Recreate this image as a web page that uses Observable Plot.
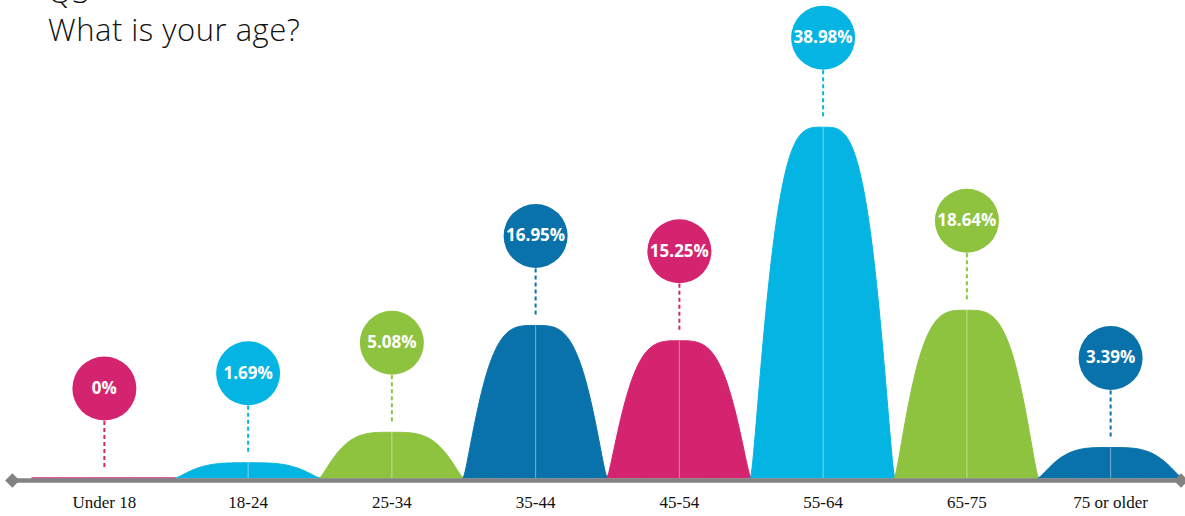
<!DOCTYPE html>
<html>
<head>
<meta charset="utf-8">
<script src="https://cdn.jsdelivr.net/npm/d3@7"></script>
<script src="https://cdn.jsdelivr.net/npm/@observablehq/plot@0.6"></script>
<style>
  html, body { margin: 0; padding: 0; background: #fff; }
  #wrap { position: relative; width: 1185px; height: 516px; overflow: hidden; }
  #title {
    position: absolute; left: 48px; top: -28px;
    font-family: "Open Sans", sans-serif; font-weight: 300;
    font-size: 31px; line-height: 38px; letter-spacing: 0.5px; color: #111;
    pointer-events: none;
  }
  #chart { position: absolute; left: 0; top: 0; }
</style>
</head>
<body>
<div id="wrap">
  <div id="chart"></div>
  <div id="title">Q3<br>What is your age?</div>
</div>
<script>
// Survey answers: share of respondents per age group (%)
const categories = ["Under 18", "18-24", "25-34", "35-44", "45-54", "55-64", "65-75", "75 or older"];
const shares = [0, 1.69, 5.08, 16.95, 15.25, 38.98, 18.64, 3.39];
const shareLabels = ["0%", "1.69%", "5.08%", "16.95%", "15.25%", "38.98%", "18.64%", "3.39%"];
const palette = ["#D5246F", "#04B5E3", "#8DC33F", "#0A72AB"];

const W = 1185, H = 516;
const marginTop = 10, marginBottom = 38;
const yMax = 52;
const pxPerUnit = (H - marginTop - marginBottom) / yMax;

const colorOf = i => palette[i % palette.length];

// Bell-shaped hump for each group: rounded top, flaring out into the baseline
const halfWidth = 0.5;
const profile = t => Math.pow(Math.max(0, 1 - Math.pow(Math.abs(t), 3.5)), 1.3);
const humps = [];
categories.forEach((c, i) => {
  for (let j = 0; j <= 80; j++) {
    const t = -1 + j / 40;
    humps.push({k: i, x: i + t * halfWidth, y: shares[i] * profile(t), color: colorOf(i)});
  }
});

const groups = categories.map((c, i) => ({
  i, c, v: shares[i], label: shareLabels[i], color: colorOf(i),
  // dashed connector from just above the hump to the bottom of the bubble
  d1: shares[i] + 11 / pxPerUnit,
  d2: shares[i] + 58 / pxPerUnit
}));

const bubbleLift = -90;
const xDomain = [-0.5, 7.5];
const axisEnds = [{x: -0.64}, {x: 7.49}];

const chart = Plot.plot({
  width: W,
  height: H,
  marginTop,
  marginBottom,
  marginLeft: 32,
  marginRight: 3,
  x: {domain: xDomain, axis: null},
  y: {domain: [0, yMax], axis: null},
  color: {type: "identity"},
  marks: [
    Plot.areaY(humps, {x: "x", y: "y", z: "k", fill: "color", stroke: "color", strokeWidth: 1}),
    Plot.ruleX(groups, {x: "i", y1: 0, y2: "v", stroke: "white", strokeOpacity: 0.45, strokeWidth: 1}),
    Plot.ruleX(groups, {x: "i", y1: "d1", y2: "d2", stroke: "color", strokeWidth: 2, strokeDasharray: "4,3"}),
    Plot.dot(groups, {x: "i", y: "v", dy: bubbleLift, r: 32, fill: "color", stroke: "none"}),
    Plot.text(groups, {x: "i", y: "v", dy: bubbleLift, text: "label", fill: "white",
      fontFamily: "Open Sans", fontWeight: "bold", fontSize: 17}),
    Plot.ruleY([0], {x1: axisEnds[0].x, x2: axisEnds[1].x, dy: 2, stroke: "#828282", strokeWidth: 4.5}),
    Plot.dot(axisEnds, {x: "x", y: 0, dy: 2, symbol: "diamond2", r: 6.5, fill: "#828282", stroke: "none"}),
    Plot.axisX(d3.range(categories.length), {
      tickSize: 0, tickPadding: 17, tickFormat: i => categories[i],
      fontFamily: "Liberation Serif", fontSize: 17, fill: "#111"
    })
  ]
});

chart.style.fontFamily = "Liberation Serif";
document.getElementById("chart").appendChild(chart);
</script>
</body>
</html>
